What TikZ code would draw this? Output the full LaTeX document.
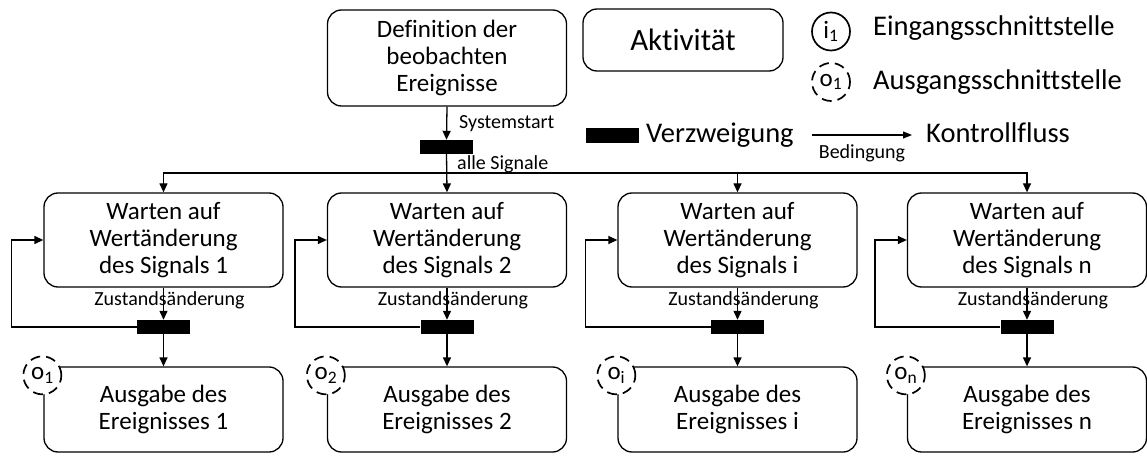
\documentclass[tikz,border=0pt]{standalone}
\usepackage{fontspec}
\setmainfont{Carlito}[Ligatures=NoCommon]
\usetikzlibrary{arrows.meta,positioning,calc}

\tikzset{
  act/.style={draw, line width=1.3pt, rounded corners=14pt, align=center,
    minimum width=239pt, inner sep=0pt, font=\fontsize{25}{27}\selectfont},
  forkbar/.style={fill=black, draw=none, minimum width=53pt, minimum height=14pt, inner sep=0pt},
  flow/.style={line width=1.3pt, -{Triangle[length=9pt,width=8pt]}},
  outport/.style={circle, draw, dash pattern=on 10pt off 6pt, line width=1.7pt,
    fill=white, minimum size=38pt, inner sep=0pt, font=\fontsize{25}{26}\selectfont},
  inport/.style={circle, draw, line width=1.7pt, fill=white, minimum size=38pt,
    inner sep=0pt, font=\fontsize{25}{26}\selectfont},
  small/.style={font=\fontsize{20}{22}\selectfont, inner sep=0pt},
  legend/.style={font=\fontsize{28.5}{32}\selectfont, inner sep=0pt, anchor=west}
}

\begin{document}
\begin{tikzpicture}[x=1pt, y=-1pt]
\useasboundingbox (0,0) rectangle (1147,462);

% start activity and initial fork
\node[act, minimum height=96pt] (def) at (447,58) {Definition der\\beobachten\\Ereignisse};
\node[forkbar] (fork0) at (446.5,147) {};
\draw[flow] (def.south) -- (fork0.north);
\node[small, anchor=west] (lstart) at (459,124) {Systemstart};

% four signal columns
\foreach \i/\x/\s in {1/163.5/1, 2/447/2, 3/737.5/i, 4/1027/n}{
  \node[act, minimum height=94pt] (wait\i) at (\x,240) {Warten auf\\Wertänderung\\des Signals \s};
  \node[forkbar] (fork\i) at (\x,327) {};
  \node[act, minimum height=85pt] (out\i) at (\x,409.5) {Ausgabe des\\Ereignisses \s};
  \coordinate (loop\i) at ($(wait\i.west)+(-32,0)$);
  \draw[flow] (wait\i.south) -- (fork\i.north);
  \node[small] (lchg\i) at ($(wait\i.south)+(6,13)$) {Zustandsänderung};
  \draw[flow] (fork\i.south) -- (out\i.north);
  \draw[flow] (fork\i.west) -| (loop\i |- fork\i.west) |- (wait\i.west);
  \node[outport] (port\i) at ($(out\i.north west)+(-1,9)$) {o\textsubscript{\s}};
}

% distribution of all signals
\coordinate (split) at (446.5,173);
\draw[flow] (fork0.south) -- (wait2.north);
\draw[flow] (split) -| (wait1.north);
\draw[flow] (split) -| (wait3.north);
\draw[flow] (split) -| (wait4.north);
\node[small, anchor=west] (lall) at (457,164) {alle Signale};

% legend
\node[act, minimum width=200pt, minimum height=62pt, font=\fontsize{31}{34}\selectfont] (lact) at (683,40) {Aktivität};
\node[inport] (lin) at (831,31.5) {i\textsubscript{1}};
\node[legend] (linT) at (873,28) {Eingangsschnittstelle};
\node[outport] (lout) at (831,82) {o\textsubscript{1}};
\node[legend] (loutT) at (873,82) {Ausgangsschnittstelle};
\node[forkbar, minimum height=15pt] (lfork) at (612.5,135.5) {};
\node[legend] (lforkT) at (646,135) {Verzweigung};
\coordinate (la) at (812,135);
\coordinate (lb) at (912,135);
\draw[line width=1.1pt, -{Triangle[length=9pt,width=7pt]}] (la) -- (lb);
\node[small] (lcond) at (862,153) {Bedingung};
\node[legend] (lflowT) at (926,133) {Kontrollfluss};
\end{tikzpicture}
\end{document}
